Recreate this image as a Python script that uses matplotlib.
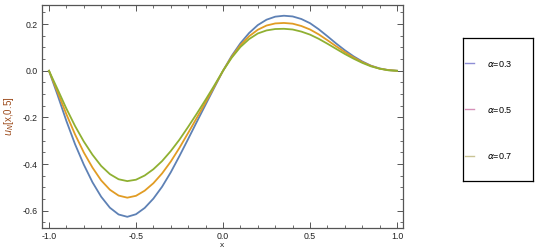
import numpy as np
import matplotlib; matplotlib.use("Agg")
import matplotlib.pyplot as plt
from matplotlib.lines import Line2D
from matplotlib.ticker import MultipleLocator

plt.rcParams["font.family"] = ["Liberation Sans", "DejaVu Sans"]

x = np.round(np.arange(-1.0, 1.0001, 0.05), 2)
u_a03 = [0, -0.105, -0.215, -0.315, -0.402, -0.478, -0.540, -0.587, -0.616, -0.626,
         -0.615, -0.588, -0.548, -0.497, -0.435, -0.365, -0.292, -0.218, -0.145, -0.072,
         0, 0.064, 0.118, 0.162, 0.196, 0.219, 0.232, 0.236, 0.233, 0.222,
         0.204, 0.178, 0.148, 0.117, 0.088, 0.062, 0.040, 0.022, 0.010, 0.003, 0]
u_a05 = [0, -0.092, -0.186, -0.273, -0.350, -0.415, -0.470, -0.510, -0.535, -0.544,
         -0.536, -0.514, -0.482, -0.440, -0.389, -0.330, -0.266, -0.201, -0.135, -0.068,
         0, 0.060, 0.110, 0.148, 0.176, 0.194, 0.203, 0.205, 0.202, 0.192,
         0.177, 0.156, 0.131, 0.105, 0.080, 0.057, 0.037, 0.021, 0.009, 0.003, 0]
u_a07 = [0, -0.080, -0.162, -0.237, -0.303, -0.360, -0.408, -0.443, -0.465, -0.473,
         -0.467, -0.449, -0.422, -0.387, -0.344, -0.295, -0.240, -0.183, -0.124, -0.063,
         0, 0.056, 0.102, 0.136, 0.160, 0.173, 0.179, 0.180, 0.177, 0.168,
         0.155, 0.137, 0.116, 0.094, 0.072, 0.052, 0.034, 0.019, 0.009, 0.002, 0]
labels = [r"$\alpha$=0.3", r"$\alpha$=0.5", r"$\alpha$=0.7"]
line_colors = ["#5E81B5", "#E19C24", "#8FB032"]
legend_colors = ["#8e8ed6", "#d690b8", "#c9c394"]

fig = plt.figure(figsize=(5.42, 2.5), dpi=100)
ax = fig.add_axes([0.0775, 0.088, 0.666, 0.892])
for u, c in zip([u_a03, u_a05, u_a07], line_colors):
    ax.plot(x, u, color=c, lw=1.3)

ax.set_xlim(-1.04, 1.034)
ax.set_ylim(-0.674, 0.282)
ax.xaxis.set_major_locator(MultipleLocator(0.5))
ax.xaxis.set_minor_locator(MultipleLocator(0.1))
ax.yaxis.set_major_locator(MultipleLocator(0.2))
ax.yaxis.set_minor_locator(MultipleLocator(0.05))
ax.tick_params(which="both", direction="in", top=True, right=True,
               color="#555555", labelsize=6.3, labelcolor="#222222", pad=3)
ax.tick_params(which="major", length=4, width=0.7)
ax.tick_params(which="minor", length=2, width=0.6)
fmt = plt.FuncFormatter(lambda v, p: f"{v:.1f}")
ax.xaxis.set_major_formatter(fmt)
ax.yaxis.set_major_formatter(fmt)
for s in ax.spines.values():
    s.set_color("#555555"); s.set_linewidth(0.9)
ax.set_xlabel("x", fontsize=6, color="#222222", labelpad=0.5)
ax.set_ylabel(r"$u_N$[x,0.5]", fontsize=7, color="#9c4a1a", labelpad=5)

lax = fig.add_axes([0.8537, 0.276, 0.1303, 0.571])
lax.set_xticks([]); lax.set_yticks([])
for s in lax.spines.values():
    s.set_color("black"); s.set_linewidth(0.9)
handles = [Line2D([], [], color=c, lw=1.0) for c in legend_colors]
lax.legend(handles, labels, loc="center left", bbox_to_anchor=(0.0, 0.5),
           frameon=False, fontsize=6.5, handlelength=0.9, handletextpad=1.5,
           labelspacing=4.0, borderaxespad=0.3, borderpad=0)

fig.savefig("out.png", dpi=100)
